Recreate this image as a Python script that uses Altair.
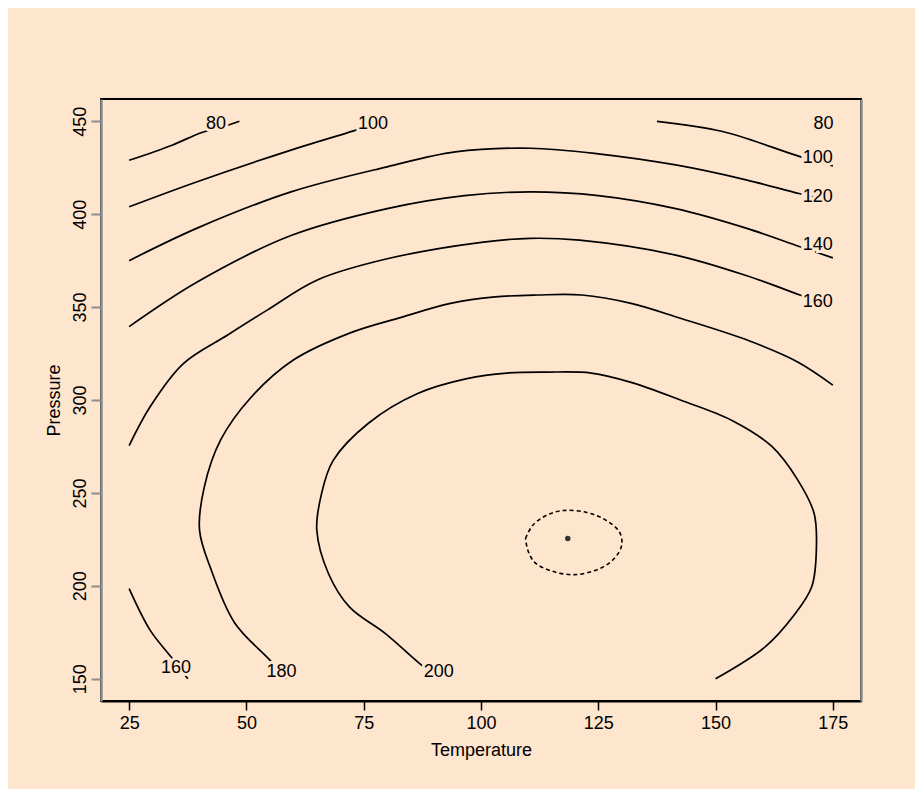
import altair as alt
import pandas as pd

BG = "#FEE5CD"
FONT = "Liberation Sans"

temperature_ticks = [25, 50, 75, 100, 125, 150, 175]
pressure_ticks = [150, 200, 250, 300, 350, 400, 450]

# contour pieces: (Temperature, Pressure)
c80a_T = [25, 34, 40.5, 45, 48.5]
c80a_P = [429, 437, 444, 447, 450]
c80b_T = [172, 175]
c80b_P = [450, 448]
c100a_T = [25, 39.5, 59.5, 73, 79]
c100a_P = [404, 417.5, 434.5, 445, 450]
c100b_T = [137.5, 151.5, 168, 175]
c100b_P = [450, 444.5, 431, 426]
c120_T = [25, 39.5, 59.5, 80, 94.5, 110.5, 125, 141.5, 156.5, 168, 175]
c120_P = [375, 392.5, 412, 425.5, 433.5, 435.5, 432.5, 426.5, 418.5, 411, 407]
c140_T = [25, 39.5, 59.5, 80, 96.5, 110.5, 125, 141.5, 156.5, 168, 175]
c140_P = [339.5, 363.5, 388.5, 403, 410, 412, 410, 403, 392.5, 382.5, 376.5]
c160a_T = [25, 29.5, 36.5, 46, 54.5, 65, 80, 100.5, 110.5, 121, 141.5, 156.5, 168, 175]
c160a_P = [275.5, 296.5, 319.5, 335, 348.5, 364.5, 376, 385, 387, 386, 378, 367, 356.5, 350]
c160b_T = [25, 29.5, 34, 37.5]
c160b_P = [198.5, 176, 161.5, 150]
c180_T = [58.5, 55, 47.5, 42.5, 40, 41, 44.5, 51, 60, 72, 83, 93.5, 103, 112, 121.5,
          132, 142.5, 157, 167.5, 175]
c180_P = [150, 160, 180, 208.5, 230, 253, 278.5, 301.5, 321.5, 336, 344.5, 352, 355.5,
          356.5, 356.5, 352, 344, 332, 320.5, 308]
c200_T = [91, 87, 79.5, 72, 67.5, 65, 66, 68.5, 76, 86.5, 97, 105.5, 114, 123.5, 132,
          142.5, 153.5, 162, 167.5, 171, 171.5, 170.5, 166.5, 160.5, 150]
c200_P = [150, 158, 174.5, 188.5, 206.5, 230, 249.5, 267.5, 287.5, 303.5, 311.5, 314.5,
          315, 314.5, 309.5, 300, 289, 275, 257, 239, 221, 199.5, 183.5, 167, 150]

# dashed inner contour around the stationary point
inner_T = [109.5, 111, 114, 117.5, 122.5, 126.5, 129.5, 130, 128.5, 125.5, 120, 115, 111.5, 110, 109.5]
inner_P = [225.5, 232.5, 238, 240.5, 239.5, 235.5, 229, 222, 215, 209.5, 206, 208, 212.5, 219, 225.5]

opt_T = [118.5]
opt_P = [225.5]

label_text = ["80", "100", "80", "100", "120", "140", "160", "160", "180", "200"]
label_T = [43.5, 77, 173, 171.8, 171.8, 171.8, 171.8, 35, 57.5, 91]
label_P = [448.5, 448.5, 448.5, 430, 409, 383.5, 352.5, 155.5, 153.5, 153.5]

pieces = [
    ("80a", c80a_T, c80a_P), ("80b", c80b_T, c80b_P),
    ("100a", c100a_T, c100a_P), ("100b", c100b_T, c100b_P),
    ("120", c120_T, c120_P), ("140", c140_T, c140_P),
    ("160a", c160a_T, c160a_P), ("160b", c160b_T, c160b_P),
    ("180", c180_T, c180_P), ("200", c200_T, c200_P),
]
rows = []
for name, ts, ps in pieces:
    for i, (t, p) in enumerate(zip(ts, ps)):
        rows.append({"piece": name, "i": i, "T": t, "P": p})
lines_df = pd.DataFrame(rows)
inner_df = pd.DataFrame({"i": list(range(len(inner_T))), "T": inner_T, "P": inner_P})
opt_df = pd.DataFrame({"T": opt_T, "P": opt_P})
lab_df = pd.DataFrame({"T": label_T, "P": label_P, "label": label_text})

xscale = alt.Scale(domain=[19, 181], nice=False, zero=False)
yscale = alt.Scale(domain=[138, 462], nice=False, zero=False)

x_axis = alt.Axis(values=temperature_ticks, title="Temperature", grid=False,
                  tickSize=9, tickColor="black", tickWidth=1.5,
                  domainColor="black", domainWidth=2,
                  labelFont=FONT, labelFontSize=18, labelColor="black",
                  labelPadding=4, labelFlush=False, labelOverlap=False,
                  titleFont=FONT, titleFontSize=18, titleFontWeight="normal",
                  titleColor="black", titlePadding=9)
y_axis = alt.Axis(values=pressure_ticks, title="Pressure", grid=False,
                  tickSize=10, tickColor="#8c8c8c", tickWidth=2,
                  domainColor="#8c8c8c", domainWidth=2.5,
                  labelFont=FONT, labelFontSize=18, labelColor="black",
                  labelAngle=270, labelAlign="center", labelBaseline="bottom",
                  labelPadding=2, labelFlush=False, labelOverlap=False,
                  titleFont=FONT, titleFontSize=18, titleFontWeight="normal",
                  titleColor="black", titlePadding=8)
y_right = alt.Axis(orient="right", labels=False, ticks=False, title=None, grid=False,
                   domainColor="#8c8c8c", domainWidth=2.5)

X = alt.X("T:Q", scale=xscale, axis=x_axis)

lines = alt.Chart(lines_df).mark_line(color="black", strokeWidth=1.7,
                                      interpolate="catmull-rom").encode(
    x=X,
    y=alt.Y("P:Q", scale=yscale, axis=y_axis),
    detail="piece:N",
    order=alt.Order("i:Q"),
)
inner = alt.Chart(inner_df).mark_line(color="black", strokeWidth=1.6, strokeDash=[4, 3],
                                      interpolate="catmull-rom").encode(
    x=X,
    y=alt.Y("P:Q", scale=yscale, axis=None),
    order=alt.Order("i:Q"),
)
opt = alt.Chart(opt_df).mark_point(filled=True, color="#333333", size=30, opacity=1).encode(
    x=X,
    y=alt.Y("P:Q", scale=yscale, axis=None),
)
halo = alt.Chart(lab_df).mark_text(font=FONT, fontSize=18, fill=BG, stroke=BG, strokeWidth=6,
                                   align="center", baseline="middle").encode(
    x=X,
    y=alt.Y("P:Q", scale=yscale, axis=y_right),
    text="label:N",
)
labels = alt.Chart(lab_df).mark_text(font=FONT, fontSize=18, fill="black",
                                     align="center", baseline="middle").encode(
    x=X,
    y=alt.Y("P:Q", scale=yscale, axis=None),
    text="label:N",
)

chart = alt.layer(lines, inner, opt, halo, labels).resolve_axis(y="independent").properties(
    width=760, height=602,
    autosize=alt.AutoSizeParams(type="none"),
    padding={"left": 93, "top": 91, "right": 54, "bottom": 88},
    background=BG,
).configure_view(stroke="black", strokeWidth=2, fill=BG)

chart.save("out.html", embed_options={"renderer": "svg", "actions": False})
